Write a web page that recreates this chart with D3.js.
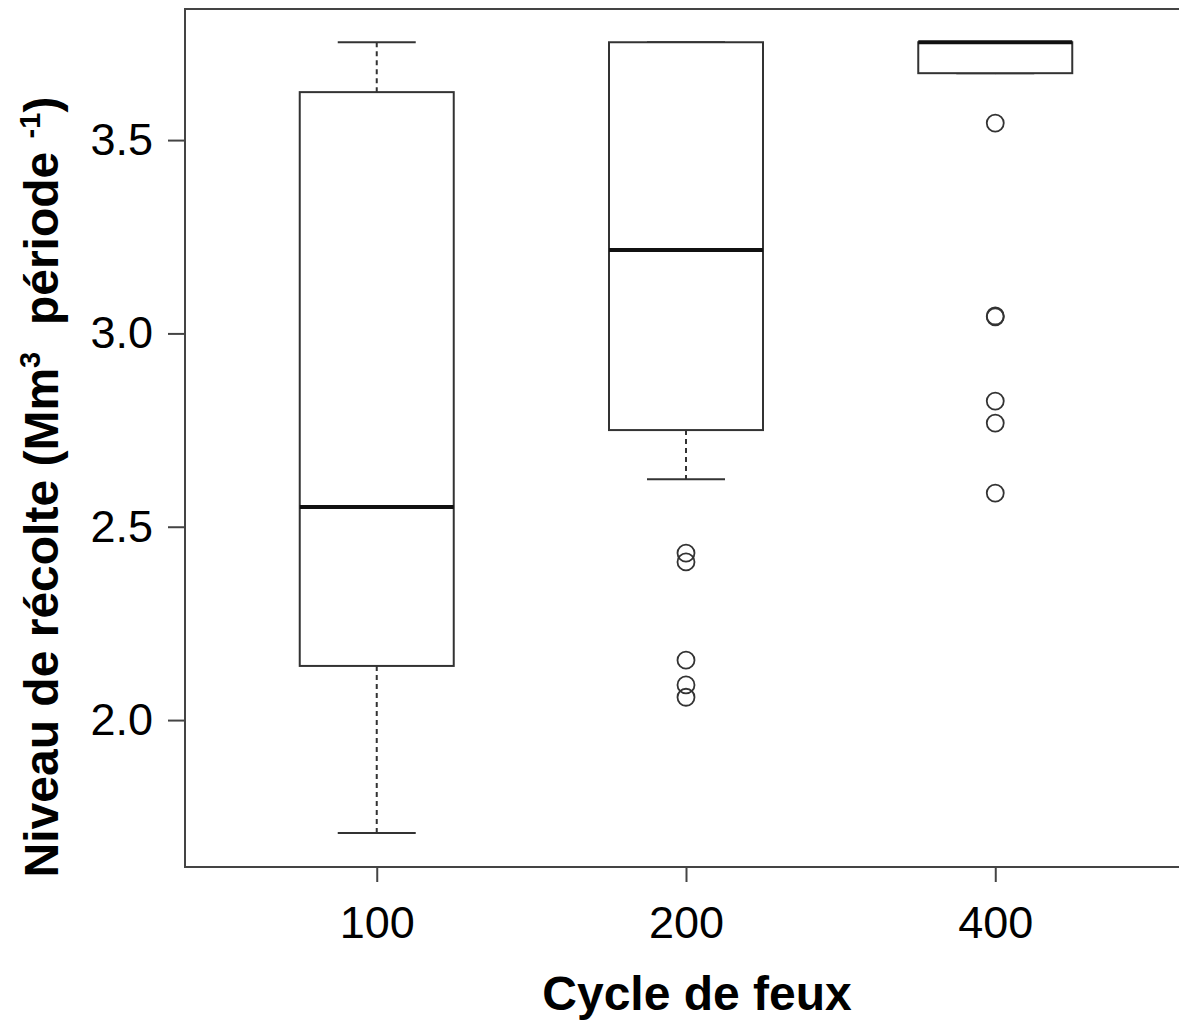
<!DOCTYPE html>
<html lang="fr">
<head>
  <meta charset="UTF-8">
  <title>Cycle de feux</title>
  <script src="https://d3js.org/d3.v7.min.js"></script>
  <style>
    body { margin: 0; background: #fff; }
    text { font-family: "Liberation Sans", Arial, sans-serif; fill: #000; }
  </style>
</head>
<body>
<script>
  var width = 1179;
  var height = 1022;

  // categories and box statistics
  var cycles = ["100", "200", "400"];
  var whiskerLow = [1.708, 2.623, 3.673];
  var q1 = [2.140, 2.750, 3.673];
  var median = [2.551, 3.216, 3.753];
  var q3 = [3.624, 3.753, 3.753];
  var whiskerHigh = [3.753, 3.753, 3.753];
  var outliers = [
    [],
    [2.432, 2.409, 2.155, 2.091, 2.059],
    [3.544, 3.045, 3.043, 2.825, 2.768, 2.587]
  ];
  var yTicks = [2.0, 2.5, 3.0, 3.5];

  var plotLeft = 185, plotRight = 1187, plotTop = 9, plotBottom = 867;
  var boxHalf = 77, capHalf = 39;

  var svg = d3.select("body").append("svg")
      .attr("width", width)
      .attr("height", height);

  var x = d3.scalePoint().domain(cycles).range([plotLeft, plotRight]).padding(0.62);
  var y = d3.scaleLinear().domain([1.62, 3.839]).range([plotBottom, plotTop]);

  // plot frame
  svg.append("rect")
      .attr("x", plotLeft).attr("y", plotTop)
      .attr("width", plotRight - plotLeft).attr("height", plotBottom - plotTop)
      .attr("fill", "none").attr("stroke", "#444").attr("stroke-width", 2);

  var boxes = svg.selectAll("g.box")
      .data(cycles)
      .enter().append("g")
      .attr("class", "box");

  // dashed whiskers
  boxes.append("line")
      .attr("x1", function(d) { return x(d); })
      .attr("x2", function(d) { return x(d); })
      .attr("y1", function(d, i) { return y(q3[i]); })
      .attr("y2", function(d, i) { return y(whiskerHigh[i]); })
      .attr("stroke", "#333").attr("stroke-width", 2).attr("stroke-dasharray", "5,4");
  boxes.append("line")
      .attr("x1", function(d) { return x(d); })
      .attr("x2", function(d) { return x(d); })
      .attr("y1", function(d, i) { return y(q1[i]); })
      .attr("y2", function(d, i) { return y(whiskerLow[i]); })
      .attr("stroke", "#333").attr("stroke-width", 2).attr("stroke-dasharray", "5,4");

  // whisker caps
  boxes.append("line")
      .attr("x1", function(d) { return x(d) - capHalf; })
      .attr("x2", function(d) { return x(d) + capHalf; })
      .attr("y1", function(d, i) { return y(whiskerHigh[i]); })
      .attr("y2", function(d, i) { return y(whiskerHigh[i]); })
      .attr("stroke", "#333").attr("stroke-width", 2);
  boxes.append("line")
      .attr("x1", function(d) { return x(d) - capHalf; })
      .attr("x2", function(d) { return x(d) + capHalf; })
      .attr("y1", function(d, i) { return y(whiskerLow[i]); })
      .attr("y2", function(d, i) { return y(whiskerLow[i]); })
      .attr("stroke", "#333").attr("stroke-width", 2);

  // boxes
  boxes.append("rect")
      .attr("x", function(d) { return x(d) - boxHalf; })
      .attr("width", boxHalf * 2)
      .attr("y", function(d, i) { return y(q3[i]); })
      .attr("height", function(d, i) { return y(q1[i]) - y(q3[i]); })
      .attr("fill", "#fff").attr("stroke", "#333").attr("stroke-width", 2);

  // medians
  boxes.append("line")
      .attr("x1", function(d) { return x(d) - boxHalf; })
      .attr("x2", function(d) { return x(d) + boxHalf; })
      .attr("y1", function(d, i) { return y(median[i]); })
      .attr("y2", function(d, i) { return y(median[i]); })
      .attr("stroke", "#111").attr("stroke-width", 4);

  // outliers
  boxes.each(function(d, i) {
    d3.select(this).selectAll("circle")
        .data(outliers[i])
        .enter().append("circle")
        .attr("cx", x(d))
        .attr("cy", function(v) { return y(v); })
        .attr("r", 8.5)
        .attr("fill", "none").attr("stroke", "#333").attr("stroke-width", 1.8);
  });

  // axes
  var yAxis = svg.append("g")
      .attr("transform", "translate(" + plotLeft + ",0)")
      .call(d3.axisLeft(y).tickValues(yTicks).tickFormat(d3.format(".1f"))
            .tickSize(17).tickPadding(15));
  var xAxis = svg.append("g")
      .attr("transform", "translate(0," + plotBottom + ")")
      .call(d3.axisBottom(x).tickSize(15).tickPadding(24));

  [yAxis, xAxis].forEach(function(a) {
    a.select(".domain").remove();
    a.selectAll(".tick line").attr("stroke", "#444").attr("stroke-width", 2);
    a.selectAll(".tick text").style("font-size", "45px")
        .style("font-family", "Liberation Sans, Arial, sans-serif").attr("fill", "#000");
  });

  // axis titles
  svg.append("text")
      .attr("x", 697).attr("y", 1010)
      .attr("text-anchor", "middle")
      .style("font-size", "48px").style("font-weight", "bold")
      .text("Cycle de feux");

  var yt = svg.append("text")
      .attr("transform", "translate(58,487) rotate(-90)")
      .attr("text-anchor", "middle")
      .style("font-size", "48px").style("font-weight", "bold");
  yt.append("tspan").text("Niveau de récolte (Mm");
  yt.append("tspan").attr("dy", -18).style("font-size", "29px").text("3");
  yt.append("tspan").attr("dy", 18).text("\u00a0\u00a0période ");
  yt.append("tspan").attr("dy", -18).style("font-size", "29px").text("-1");
  yt.append("tspan").attr("dy", 18).text(")");
</script>
</body>
</html>
